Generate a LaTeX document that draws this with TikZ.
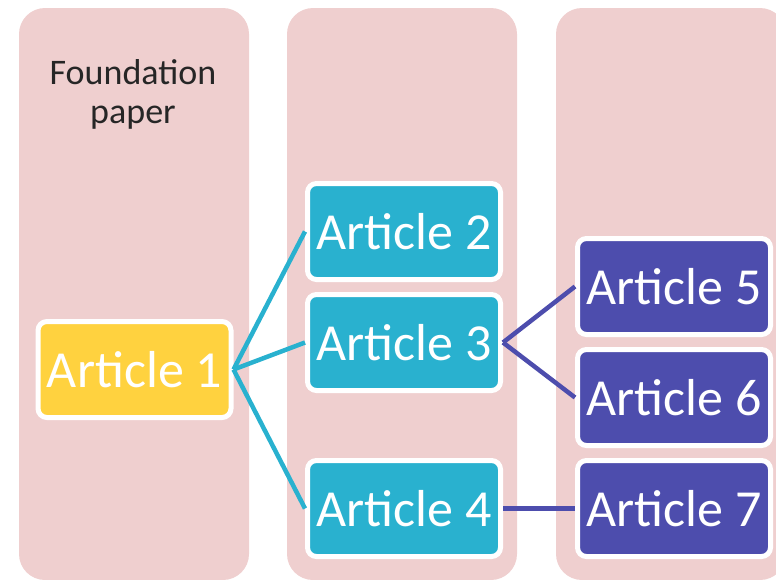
\documentclass[tikz,border=0pt]{standalone}
\usepackage{fontspec}
\setmainfont{Carlito}
\definecolor{colpink}{RGB}{239,207,207}
\definecolor{artyellow}{RGB}{255,210,63}
\definecolor{artteal}{RGB}{41,177,207}
\definecolor{artpurple}{RGB}{77,77,173}
\definecolor{labelgray}{RGB}{38,38,38}
\tikzset{
  colbox/.style={fill=colpink, rounded corners=26pt},
  collabel/.style={text=labelgray, anchor=base, inner sep=0pt, font=\fontsize{36}{40}\selectfont},
  article/.style={draw=white, line width=5pt, rounded corners=9pt,
    minimum width=193pt, minimum height=96pt, inner sep=0pt,
    text=white, font=\fontsize{52}{56}\selectfont},
  tealline/.style={draw=artteal, line width=4.5pt},
  purpline/.style={draw=artpurple, line width=4.5pt},
}
\begin{document}
\begin{tikzpicture}[x=1pt,y=-1pt]
\useasboundingbox (0,0) rectangle (776,579);
\clip (0,0) rectangle (776,579);
\fill[colbox] (19,8) rectangle (249,580);
\fill[colbox] (287,8) rectangle (517,580);
\fill[colbox] (556,8) rectangle (786,580);
\node[collabel] (found1) at (133,84) {Foundation};
\node[collabel] (found2) at (133,123) {paper};
\node[article, fill=artyellow] (a1) at (134.5,369.5) {Article 1};
\node[article, fill=artteal] (a2) at (404,231.5) {Article 2};
\node[article, fill=artteal] (a3) at (404,342.5) {Article 3};
\node[article, fill=artteal] (a4) at (404,508.5) {Article 4};
\node[article, fill=artpurple] (a5) at (674,286.5) {Article 5};
\node[article, fill=artpurple] (a6) at (674,397.5) {Article 6};
\node[article, fill=artpurple] (a7) at (674,508.5) {Article 7};
\draw[tealline] (a1.east) -- (a2.west);
\draw[tealline] (a1.east) -- (a3.west);
\draw[tealline] (a1.east) -- (a4.west);
\draw[purpline] (a3.east) -- (a5.west);
\draw[purpline] (a3.east) -- (a6.west);
\draw[purpline] (a4.east) -- (a7.west);
\end{tikzpicture}
\end{document}
